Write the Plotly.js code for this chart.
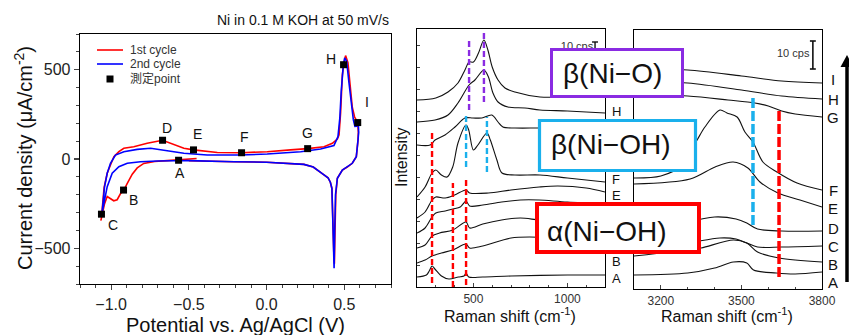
<!DOCTYPE html>
<html><head><meta charset="utf-8">
<script src="https://cdn.plot.ly/plotly-3.0.1.min.js"></script>
<style>html,body{margin:0;padding:0;background:#fff}#chart{width:849px;height:335px}</style>
</head><body><div id="chart"></div>
<script>
// ---------- Cyclic voltammogram (Ni in 0.1 M KOH, 50 mV/s) ----------
const cv1Potential = [-0.45,-0.50,-0.566,-0.64,-0.72,-0.79,-0.832,-0.864,-0.896,-0.918,-0.94,-0.961,-0.983,-1.004,-1.025,-1.042,-1.057,-1.066,
 -1.062,-1.045,-1.025,-1.004,-0.982,-0.95,-0.918,-0.854,-0.768,-0.669,-0.597,-0.532,-0.47,-0.317,-0.161,0.004,0.154,0.264,0.369,0.423,0.455,0.466,0.476,0.487,0.497,0.508,0.523,0.536,0.551,0.566,0.586,
 0.590,0.588,0.577,0.551,0.519,0.487,0.455,0.445,0.440,0.436,0.432,0.427,0.420,0.410,0.395,0.358,0.300,0.240,0.150,0.0,-0.21,-0.425,-0.50];
const cv1Current = [3,-1,-7,-9,-14,-25,-50,-85,-137,-174,-195,-228,-234,-221,-210,-250,-324,-345,
 -330,-160,-80,-34,13,41,60,69,88,105,79,60,51,36,35,41,51,58,69,88,112,135,260,470,540,579,540,400,290,235,204,
 150,107,13,-24,-45,-62,-108,-200,-400,-586,-520,-300,-165,-130,-105,-82,-45,-30,-24,-18,-15,-11,-10];
const cv2Potential = [-0.50,-0.566,-0.703,-0.811,-0.896,-0.95,-0.993,-1.025,-1.047,-1.060,
 -1.058,-1.042,-1.025,-1.004,-0.972,-0.918,-0.832,-0.746,-0.639,-0.532,-0.382,-0.167,0.004,0.219,0.347,0.433,0.459,0.471,0.480,0.491,0.502,0.515,0.530,0.545,0.558,0.568,0.579,0.590,
 0.592,0.588,0.577,0.551,0.519,0.487,0.455,0.443,0.438,0.434,0.430,0.426,0.420,0.410,0.395,0.358,0.300,0.240,0.150,0.0,-0.21,-0.425,-0.50];
const cv2Current = [-8,-8,-11,-15,-24,-43,-80,-155,-249,-310,
 -300,-155,-80,-24,22,41,54,60,47,32,22,22,28,41,56,75,125,230,380,500,566,547,425,294,219,182,183,198,
 150,107,13,-24,-45,-62,-108,-200,-400,-612,-480,-260,-165,-130,-105,-82,-45,-30,-24,-18,-15,-12,-9];
const pointLabels = ['A','B','C','D','E','F','G','H','I'];
const pointPotential = [-0.566,-0.920,-1.062,-0.669,-0.470,-0.161,0.264,0.495,0.586];
const pointCurrent = [-7,-174,-309,105,51,35,58,528,204];

// ---------- Raman spectra, low wavenumber (stacked, arbitrary units) ----------
const lowShift = {
 I:[200,300,365,418,455,477,500,527,556,577,600,631,668,721,854,1000,1200],
 H:[200,296,365,418,477,508,556,580,604,631,684,774,854,1000,1200],
 G:[200,270,296,349,402,455,497,545,598,631,657,721,854,1200],
 F:[200,243,280,300,330,360,390,418,461,475,500,524,572,590,625,652,721,854,1000,1200],
 E:[200,243,280,300,350,400,461,480,580,700,850,950,1100,1200],
 D:[200,243,280,300,350,391,430,461,480,550,650,750,850,1000,1200],
 C:[200,243,280,320,391,461,480,550,650,750,850,1000,1200],
 B:[200,243,280,330,391,461,480,550,700,800,1000,1200],
 A:[200,250,265,280,295,330,370,420,450,461,475,550,700,1000,1200]
};
const lowIntensity = {
 I:[187,189,195,204,217,225,225,234,247,237,220,207,199,195,190,190,190],
 H:[165,167,172,184,202,207,217,210,194,185,180,179,177,176,174],
 G:[142,142,147,152,160,169,169,169,172,165,160,159,159,159],
 F:[90,100,114,117,112,110,120,144,162,157,137,142,154,147,127,114,112,112,109,105],
 E:[69,75,87,90,89,92,97,94,94,97,100,101,99,95],
 D:[54,59,70,74,76,78,80,86,81,82,85,87,87,85,84],
 C:[39,42,51,54,57,65,59,63,67,69,67,65,65],
 B:[24,27,31,34,37,43,39,41,49,50,48,47],
 A:[10,12,16,21,18,11,8,10,11,14,10,10,11,12,12]
};
// ---------- Raman spectra, O-H stretch region ----------
const highShift = {
 I:[3100,3300,3500,3650,3800],
 H:[3100,3300,3500,3650,3800],
 G:[3100,3300,3450,3550,3600,3650,3700,3800],
 F:[3100,3200,3280,3335,3364,3420,3446,3484,3513,3543,3580,3632,3707,3800],
 E:[3100,3309,3402,3469,3524,3569,3636,3718,3800],
 D:[3100,3200,3300,3400,3480,3520,3560,3650,3800],
 C:[3100,3300,3420,3480,3520,3560,3650,3800],
 B:[3100,3300,3350,3470,3520,3560,3640,3800],
 A:[3100,3300,3400,3470,3520,3545,3630,3700,3800]
};
const highIntensity = {
 I:[220,219,213,208,206],
 H:[208,206,199,193,190],
 G:[195,193,189,186,183,178,175,172],
 F:[111,113,124,149,162,179,176,172,157,147,127,117,106,99],
 E:[105,110,122,127,121,107,96,89,82],
 D:[55,59,67,72,70,66,60,58,58],
 C:[39,46,51,50,46,42,42,43],
 B:[33,39,41,49,46,37,31,27],
 A:[14,16,21,27,26,19,16,15,17]
};
const spectrumOrder = ['I','H','G','F','E','D','C','B','A'];
// labels of the low-wavenumber panel that are not hidden by the boxes
const lowVisibleLabels = ['H','F','E','B','A'];
// peak markers (Raman shift) and their vertical extent
const alphaPeaks = [280,391,461], alphaTop = [155,104,107], alphaBottom = [4,0,2];
const betaOHPeaks = [461,572], betaOHTop = [172,170], betaOHBottom = [120,115];
const betaOPeaks = [477,556], betaOTop = [247,254], betaOBottom = [177,185];
const highPeaks = [3543,3640], highTop = [191,179], highBottom = [64,12];
const scaleBar10cps = 28;

const FONT = 'Liberation Sans, Arial, Helvetica, sans-serif';
const PX = v => v/849, PY = v => 1 - v/335;
const RED = '#ff0000', BLUE = '#0000ff', PURPLE = '#8a2be2', SKY = '#1ab0ec';

const traces = [];
traces.push({x:cv1Potential,y:cv1Current,type:'scatter',mode:'lines',line:{color:RED,width:1.6},xaxis:'x',yaxis:'y',hoverinfo:'skip'});
traces.push({x:cv2Potential,y:cv2Current,type:'scatter',mode:'lines',line:{color:BLUE,width:1.6},xaxis:'x',yaxis:'y',hoverinfo:'skip'});
traces.push({x:pointPotential,y:pointCurrent,type:'scatter',mode:'markers',marker:{symbol:'square',size:7,color:'#000'},xaxis:'x',yaxis:'y',hoverinfo:'skip'});

spectrumOrder.forEach(k=>{
  traces.push({x:lowShift[k],y:lowIntensity[k],type:'scatter',mode:'lines',line:{color:'#111',width:1.1,shape:'spline',smoothing:0.9},xaxis:'x2',yaxis:'y2',hoverinfo:'skip'});
  traces.push({x:highShift[k],y:highIntensity[k],type:'scatter',mode:'lines',line:{color:'#111',width:1.1,shape:'spline',smoothing:0.9},xaxis:'x3',yaxis:'y3',hoverinfo:'skip'});
});
// partly hidden "10 cps" of the low-wavenumber panel (a text trace, so the box can cover it)
traces.push({x:[1051],y:[240],text:['10 cps'],type:'scatter',mode:'text',cliponaxis:false,
  textfont:{family:FONT,size:11,color:'#333'},xaxis:'x2',yaxis:'y2',hoverinfo:'skip'});

const shapes = [];
// legend
shapes.push({type:'line',xref:'paper',yref:'paper',x0:PX(97),x1:PX(123),y0:PY(50),y1:PY(50),line:{color:RED,width:1.6}});
shapes.push({type:'line',xref:'paper',yref:'paper',x0:PX(97),x1:PX(123),y0:PY(64),y1:PY(64),line:{color:BLUE,width:1.6}});
shapes.push({type:'rect',xref:'paper',yref:'paper',x0:PX(106.5),x1:PX(113.5),y0:PY(75.5),y1:PY(82.5),fillcolor:'#000',line:{width:0}});
// dashed peak markers
function dashed(xa,ya,xs,tops,bots,color,w,dash){
  xs.forEach((x,i)=>shapes.push({type:'line',xref:xa,yref:ya,x0:x,x1:x,y0:bots[i],y1:tops[i],layer:'above',line:{color:color,width:w,dash:dash}}));
}
dashed('x2','y2',alphaPeaks,alphaTop,alphaBottom,RED,2.4,'6px,3px');
dashed('x2','y2',betaOHPeaks,betaOHTop,betaOHBottom,SKY,2.4,'6px,3px');
dashed('x2','y2',betaOPeaks,betaOTop,betaOBottom,PURPLE,2.4,'6px,3px');
dashed('x3','y3',[highPeaks[0]],[highTop[0]],[highBottom[0]],SKY,3.5,'10px,3px');
dashed('x3','y3',[highPeaks[1]],[highTop[1]],[highBottom[1]],RED,3.5,'10px,3px');
// scale bars
shapes.push({type:'line',xref:'x2',yref:'y2',x0:1147,x1:1147,y0:245-scaleBar10cps,y1:245,layer:'below',line:{color:'#111',width:1.4}});
shapes.push({type:'line',xref:'x2',yref:'y2',x0:1131,x1:1163,y0:245,y1:245,layer:'below',line:{color:'#111',width:1.4}});
shapes.push({type:'line',xref:'x3',yref:'y3',x0:3766,x1:3766,y0:220,y1:220+scaleBar10cps,line:{color:'#111',width:1.6}});
shapes.push({type:'line',xref:'x3',yref:'y3',x0:3755,x1:3777,y0:220,y1:220,line:{color:'#111',width:1.6}});
shapes.push({type:'line',xref:'x3',yref:'y3',x0:3755,x1:3777,y0:220+scaleBar10cps,y1:220+scaleBar10cps,line:{color:'#111',width:1.6}});
// label boxes
function box(x0,x1,y0,y1,color,w){
  shapes.push({type:'rect',xref:'paper',yref:'paper',x0:PX(x0),x1:PX(x1),y0:PY(y1),y1:PY(y0),layer:'above',fillcolor:'#fff',line:{color:color,width:w}});
}
box(551.5,682.5,49.5,96.5,PURPLE,3);
box(539.5,695.5,120.5,170.5,SKY,3.2);
box(537,699,204,252,RED,4);
// arrow
shapes.push({type:'line',xref:'paper',yref:'paper',x0:PX(847),x1:PX(847),y0:PY(282),y1:PY(64),line:{color:'#000',width:3.5}});
shapes.push({type:'path',xref:'paper',yref:'paper',path:`M ${PX(840.5)},${PY(67)} L ${PX(853.5)},${PY(67)} L ${PX(847)},${PY(55)} Z`,fillcolor:'#000',line:{width:0}});

const ann = [];
function A(text,x,y,size,opts){ann.push(Object.assign({text:text,x:PX(x),y:PY(y),xref:'paper',yref:'paper',showarrow:false,
  font:{family:FONT,size:size,color:'#111'},xanchor:'center',yanchor:'middle'},opts||{}));}
A('Ni in 0.1 M KOH at 50 mV/s',391,20,14,{xanchor:'right'});
A('Current density (μA/cm<sup>-2</sup>)',23,158,20,{textangle:-90});
A('Potential vs. Ag/AgCl (V)',235,325,20);
A('Intensity',401,157,16,{textangle:-90});
A('Raman shift (cm<sup>-1</sup>)',510,315,16);
A('Raman shift (cm<sup>-1</sup>)',727,315,16);
A('1st cycle',128,50,12,{xanchor:'left',font:{family:FONT,size:12,color:'#333'}});
A('2nd cycle',128,64,12,{xanchor:'left',font:{family:FONT,size:12,color:'#333'}});
A('測定point',128,79,12,{xanchor:'left',font:{family:FONT+', Noto Sans CJK JP',size:12,color:'#333'}});
A('β(Ni−O)',612,73,28);
A('β(Ni−OH)',611,145,28);
A('α(Ni−OH)',607,231,28);
A('10 cps',793,53,11,{font:{family:FONT,size:11,color:'#333'}});
const highLabelY = [79,99,118,190,208,228,247,264,282];
spectrumOrder.forEach((k,i)=>A(k,833,highLabelY[i],15));
const lowLabelY = {H:111,F:179,E:195,B:261,A:278};
lowVisibleLabels.forEach(k=>A(k,616,lowLabelY[k],13));
const labelShift = {A:[1,13],B:[10,10],C:[12,11],D:[4,-12],E:[4,-16],F:[3,-16],G:[0,-16],H:[-13,-6],I:[9,-21]};
pointLabels.forEach((k,i)=>ann.push({text:k,x:pointPotential[i],y:pointCurrent[i],xref:'x',yref:'y',showarrow:false,
  xshift:labelShift[k][0],yshift:-labelShift[k][1],font:{family:FONT,size:14,color:'#111'}}));

const axBase = {showgrid:false,zeroline:false,showline:true,mirror:true,linecolor:'#000',linewidth:1.3};
const layout = {
  width:849,height:335,margin:{l:0,r:0,t:0,b:0},paper_bgcolor:'#fff',plot_bgcolor:'#fff',showlegend:false,
  font:{family:FONT,color:'#111'},
  xaxis:Object.assign({},axBase,{domain:[PX(80),PX(391)],range:[-1.2,0.8],anchor:'y',ticks:'outside',ticklen:5,tickwidth:1.2,
    dtick:0.5,tick0:0,tickformat:'.1f',tickfont:{size:16,color:'#222'},minor:{dtick:0.1,ticks:'outside',ticklen:3,tickwidth:1}}),
  yaxis:Object.assign({},axBase,{domain:[1-284/335,1-34/335],range:[-700,700],anchor:'x',ticks:'outside',ticklen:5,tickwidth:1.2,
    dtick:500,tickfont:{size:16,color:'#222'},minor:{dtick:100,ticks:'outside',ticklen:3,tickwidth:1}}),
  xaxis2:Object.assign({},axBase,{domain:[PX(417),PX(605)],range:[200,1200],anchor:'y2',ticks:'inside',ticklen:4,tickwidth:1,
    dtick:500,tick0:0,tickfont:{size:12,color:'#333'},minor:{dtick:100,ticks:'inside',ticklen:2.5}}),
  yaxis2:Object.assign({},axBase,{domain:[1-287/335,1-29/335],range:[0,258],anchor:'x2',ticks:'inside',ticklen:3,dtick:22,showticklabels:false}),
  xaxis3:Object.assign({},axBase,{domain:[PX(634),PX(822)],range:[3100,3800],anchor:'y3',ticks:'inside',ticklen:4,tickwidth:1,
    dtick:300,tick0:3200,tickfont:{size:12,color:'#333'},minor:{dtick:100,ticks:'inside',ticklen:2.5}}),
  yaxis3:Object.assign({},axBase,{domain:[1-289/335,1-30/335],range:[0,259],anchor:'x3',ticks:'',showticklabels:false}),
  shapes:shapes, annotations:ann
};
Plotly.newPlot('chart',traces,layout,{staticPlot:true,displayModeBar:false});
</script></body></html>
